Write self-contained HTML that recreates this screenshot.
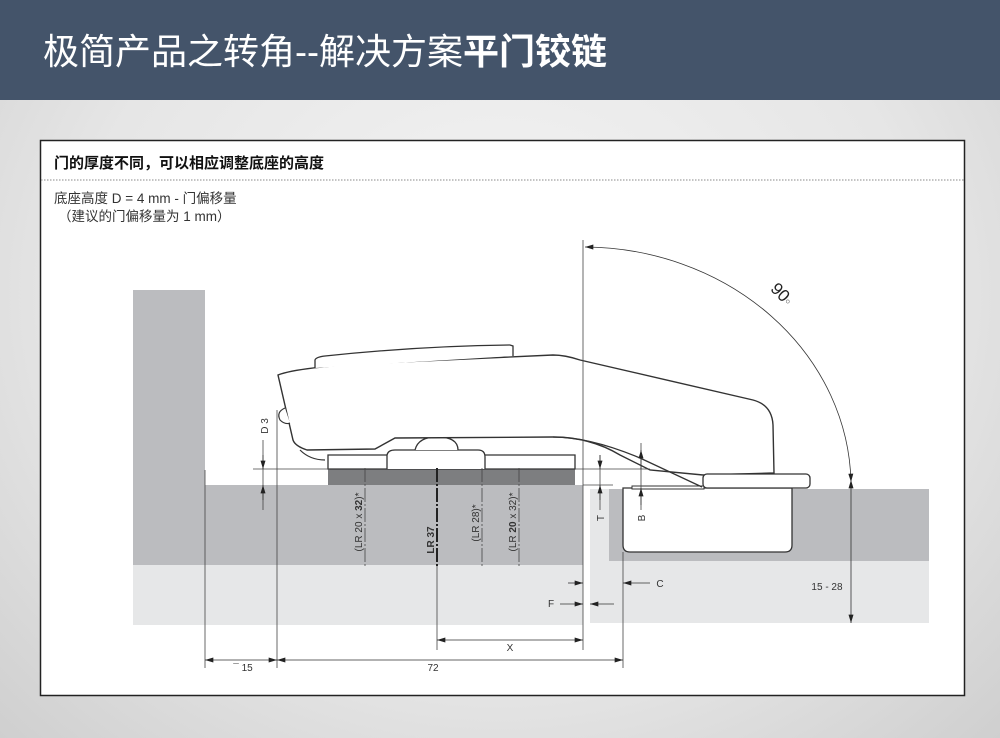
<!DOCTYPE html>
<html><head><meta charset="utf-8"><style>
body{margin:0;width:1000px;height:738px;overflow:hidden;background:radial-gradient(ellipse at 50% 40%,#f4f4f4 0%,#e6e6e6 60%,#cfcfcf 100%);font-family:"Liberation Sans","Noto Sans CJK SC",sans-serif;}
</style></head><body>
<svg width="1000" height="738" viewBox="0 0 1000 738" xmlns="http://www.w3.org/2000/svg" style="position:absolute;left:0;top:0">
<defs>
<marker id="a" viewBox="0 0 10 6" refX="10" refY="3" markerWidth="10" markerHeight="5" orient="auto-start-reverse" markerUnits="userSpaceOnUse"><path d="M0,0 L10,3 L0,6 z" fill="#222"/></marker>
</defs>
<rect x="0" y="0" width="1000" height="100" fill="#44546a"/>
<text x="43" y="64" font-size="36" fill="#fff" font-family="Liberation Sans,Noto Sans CJK SC,sans-serif">极简产品之转角--解决方案<tspan font-weight="bold">平门铰链</tspan></text>
<rect x="40.5" y="140.5" width="924" height="555" fill="#fff" stroke="#222" stroke-width="1.5"/>
<text x="54" y="168" font-size="15" font-weight="bold" fill="#111" font-family="Noto Sans CJK SC,sans-serif">门的厚度不同，可以相应调整底座的高度</text>
<line x1="41" y1="180" x2="964" y2="180" stroke="#888" stroke-dasharray="1.5,1.5"/>
<text x="54" y="203" font-size="13.5" fill="#333" font-family="Liberation Sans,Noto Sans CJK SC,sans-serif">底座高度 D = 4 mm - 门偏移量</text>
<text x="58" y="221" font-size="13.5" fill="#333" font-family="Liberation Sans,Noto Sans CJK SC,sans-serif">（建议的门偏移量为 1 mm）</text>

<rect x="133" y="565" width="450" height="60" fill="#e6e7e8"/>
<rect x="133" y="290" width="72" height="275" fill="#bbbcbf"/>
<rect x="205" y="485" width="378" height="80" fill="#bbbcbf"/>
<rect x="590" y="489" width="339" height="134" fill="#e6e7e8"/>
<rect x="609" y="489" width="320" height="72" fill="#bbbcbf"/>
<path d="M623,488 L792,488 L792,545 Q792,552 785,552 L630,552 Q623,552 623,545 Z" fill="#fff" stroke="#333" stroke-width="1.3"/>
<rect x="632" y="486" width="72" height="3" fill="#fff" stroke="#333" stroke-width="1"/>
<rect x="328" y="469" width="247" height="16" fill="#7d7e80"/>
<path d="M328,469 L328,455 L575,455 L575,469 Z" fill="#fff" stroke="#333" stroke-width="1.3"/>
<path d="M387,469 L387,455 Q388,450 395,450 L478,450 Q485,450 485,457 L485,469" fill="#fff" stroke="#333" stroke-width="1.3"/>
<path d="M415,450 Q418,437 437,437 Q458,437 458,450" fill="#fff" stroke="#333" stroke-width="1.3"/>
<path d="M278,375 Q300,366 400,362 L553,355 Q565,355 580,360 L753,400 Q772,405 773,425 L774,473 L703,475 L650,470 L620,455 Q590,437 553,437 L395,438 L375,449 L307,450 Q295,446 293,440 Z" fill="#fff" stroke="#333" stroke-width="1.4"/>
<path d="M553,437 Q590,437 640,458 L702,487" fill="none" stroke="#333" stroke-width="1.3"/>
<path d="M285,408 Q276,412 280,420 Q285,425 290,423" fill="#fff" stroke="#333" stroke-width="1.2"/>
<path d="M300,450 Q310,460 325,460" fill="none" stroke="#333" stroke-width="1.2"/>
<path d="M315,368 L315,360 Q316,357 325,356 Q420,346 510,345 L513,346 L513,356" fill="#fff" stroke="#333" stroke-width="1.3"/>
<rect x="703" y="474" width="107" height="14" rx="4" fill="#fff" stroke="#333" stroke-width="1.3"/>

<g stroke="#444" stroke-width="0.8" fill="none">
<line x1="253" y1="469" x2="330" y2="469"/>
<line x1="575" y1="469" x2="650" y2="469"/>
<line x1="583" y1="485" x2="613" y2="485"/>
<line x1="205" y1="470" x2="205" y2="668"/>
<line x1="277" y1="410" x2="277" y2="668"/>
<line x1="583" y1="240" x2="583" y2="650"/>
<line x1="623" y1="552" x2="623" y2="668"/>
<line x1="437" y1="565" x2="437" y2="650"/>
<line x1="263" y1="440" x2="263" y2="510"/>
<line x1="600" y1="455" x2="600" y2="510"/>
<line x1="641" y1="443" x2="641" y2="510"/>
</g>
<g stroke="#444" stroke-width="0.8" stroke-dasharray="14,2,2,2">
<line x1="365" y1="468" x2="365" y2="568"/>
<line x1="482" y1="468" x2="482" y2="568"/>
<line x1="519" y1="468" x2="519" y2="568"/>
</g>
<line x1="437" y1="468" x2="437" y2="568" stroke="#222" stroke-width="2" stroke-dasharray="14,2,2,2"/>
<g stroke="#333" stroke-width="0.8" fill="none">
<line x1="263" y1="455" x2="263" y2="469" marker-end="url(#a)"/>
<line x1="263" y1="500" x2="263" y2="485" marker-end="url(#a)"/>
<line x1="600" y1="455" x2="600" y2="469" marker-end="url(#a)"/>
<line x1="600" y1="500" x2="600" y2="485" marker-end="url(#a)"/>
<line x1="641" y1="450" x2="641" y2="469" marker-start="url(#a)"/>
<line x1="641" y1="488" x2="641" y2="505" marker-start="url(#a)"/>
<line x1="205" y1="660" x2="277" y2="660" marker-start="url(#a)" marker-end="url(#a)"/>
<line x1="277" y1="660" x2="623" y2="660" marker-start="url(#a)" marker-end="url(#a)"/>
<line x1="437" y1="640" x2="583" y2="640" marker-start="url(#a)" marker-end="url(#a)"/>
<line x1="568" y1="583" x2="583" y2="583" marker-end="url(#a)"/>
<line x1="650" y1="583" x2="623" y2="583" marker-end="url(#a)"/>
<line x1="560" y1="604" x2="583" y2="604" marker-end="url(#a)"/>
<line x1="614" y1="604" x2="590" y2="604" marker-end="url(#a)"/>
<line x1="851" y1="480" x2="851" y2="623" marker-start="url(#a)" marker-end="url(#a)"/>
<path d="M585,247 A268,240 0 0 1 851,482" marker-start="url(#a)" marker-end="url(#a)"/>
</g>
<g font-size="10" fill="#333" font-family="Liberation Sans,sans-serif">
<text x="268" y="426" transform="rotate(-90 268 426)" text-anchor="middle">D 3</text>
<text x="604" y="518" transform="rotate(-90 604 518)" text-anchor="middle">T</text>
<text x="645" y="518" transform="rotate(-90 645 518)" text-anchor="middle">B</text>
<text x="362" y="522" transform="rotate(-90 362 522)" text-anchor="middle">(LR 20 x <tspan font-weight="bold">32</tspan>)*</text>
<text x="479" y="523" transform="rotate(-90 479 523)" text-anchor="middle">(LR 28)*</text>
<text x="516" y="522" transform="rotate(-90 516 522)" text-anchor="middle">(LR <tspan font-weight="bold">20</tspan> x 32)*</text>
<text x="434" y="540" transform="rotate(-90 434 540)" text-anchor="middle" font-weight="bold">LR 37</text>
<text x="243" y="671" text-anchor="middle">¯ 15</text>
<text x="433" y="671" text-anchor="middle">72</text>
<text x="510" y="651" text-anchor="middle">X</text>
<text x="660" y="587" text-anchor="middle">C</text>
<text x="551" y="607" text-anchor="middle">F</text>
<text x="827" y="590" text-anchor="middle">15 - 28</text>
</g>
<text x="778" y="298" font-size="17" fill="#222" transform="rotate(45 778 298)" text-anchor="middle">90<tspan font-size="8" dy="-2">○</tspan></text>
</svg>
</body></html>
